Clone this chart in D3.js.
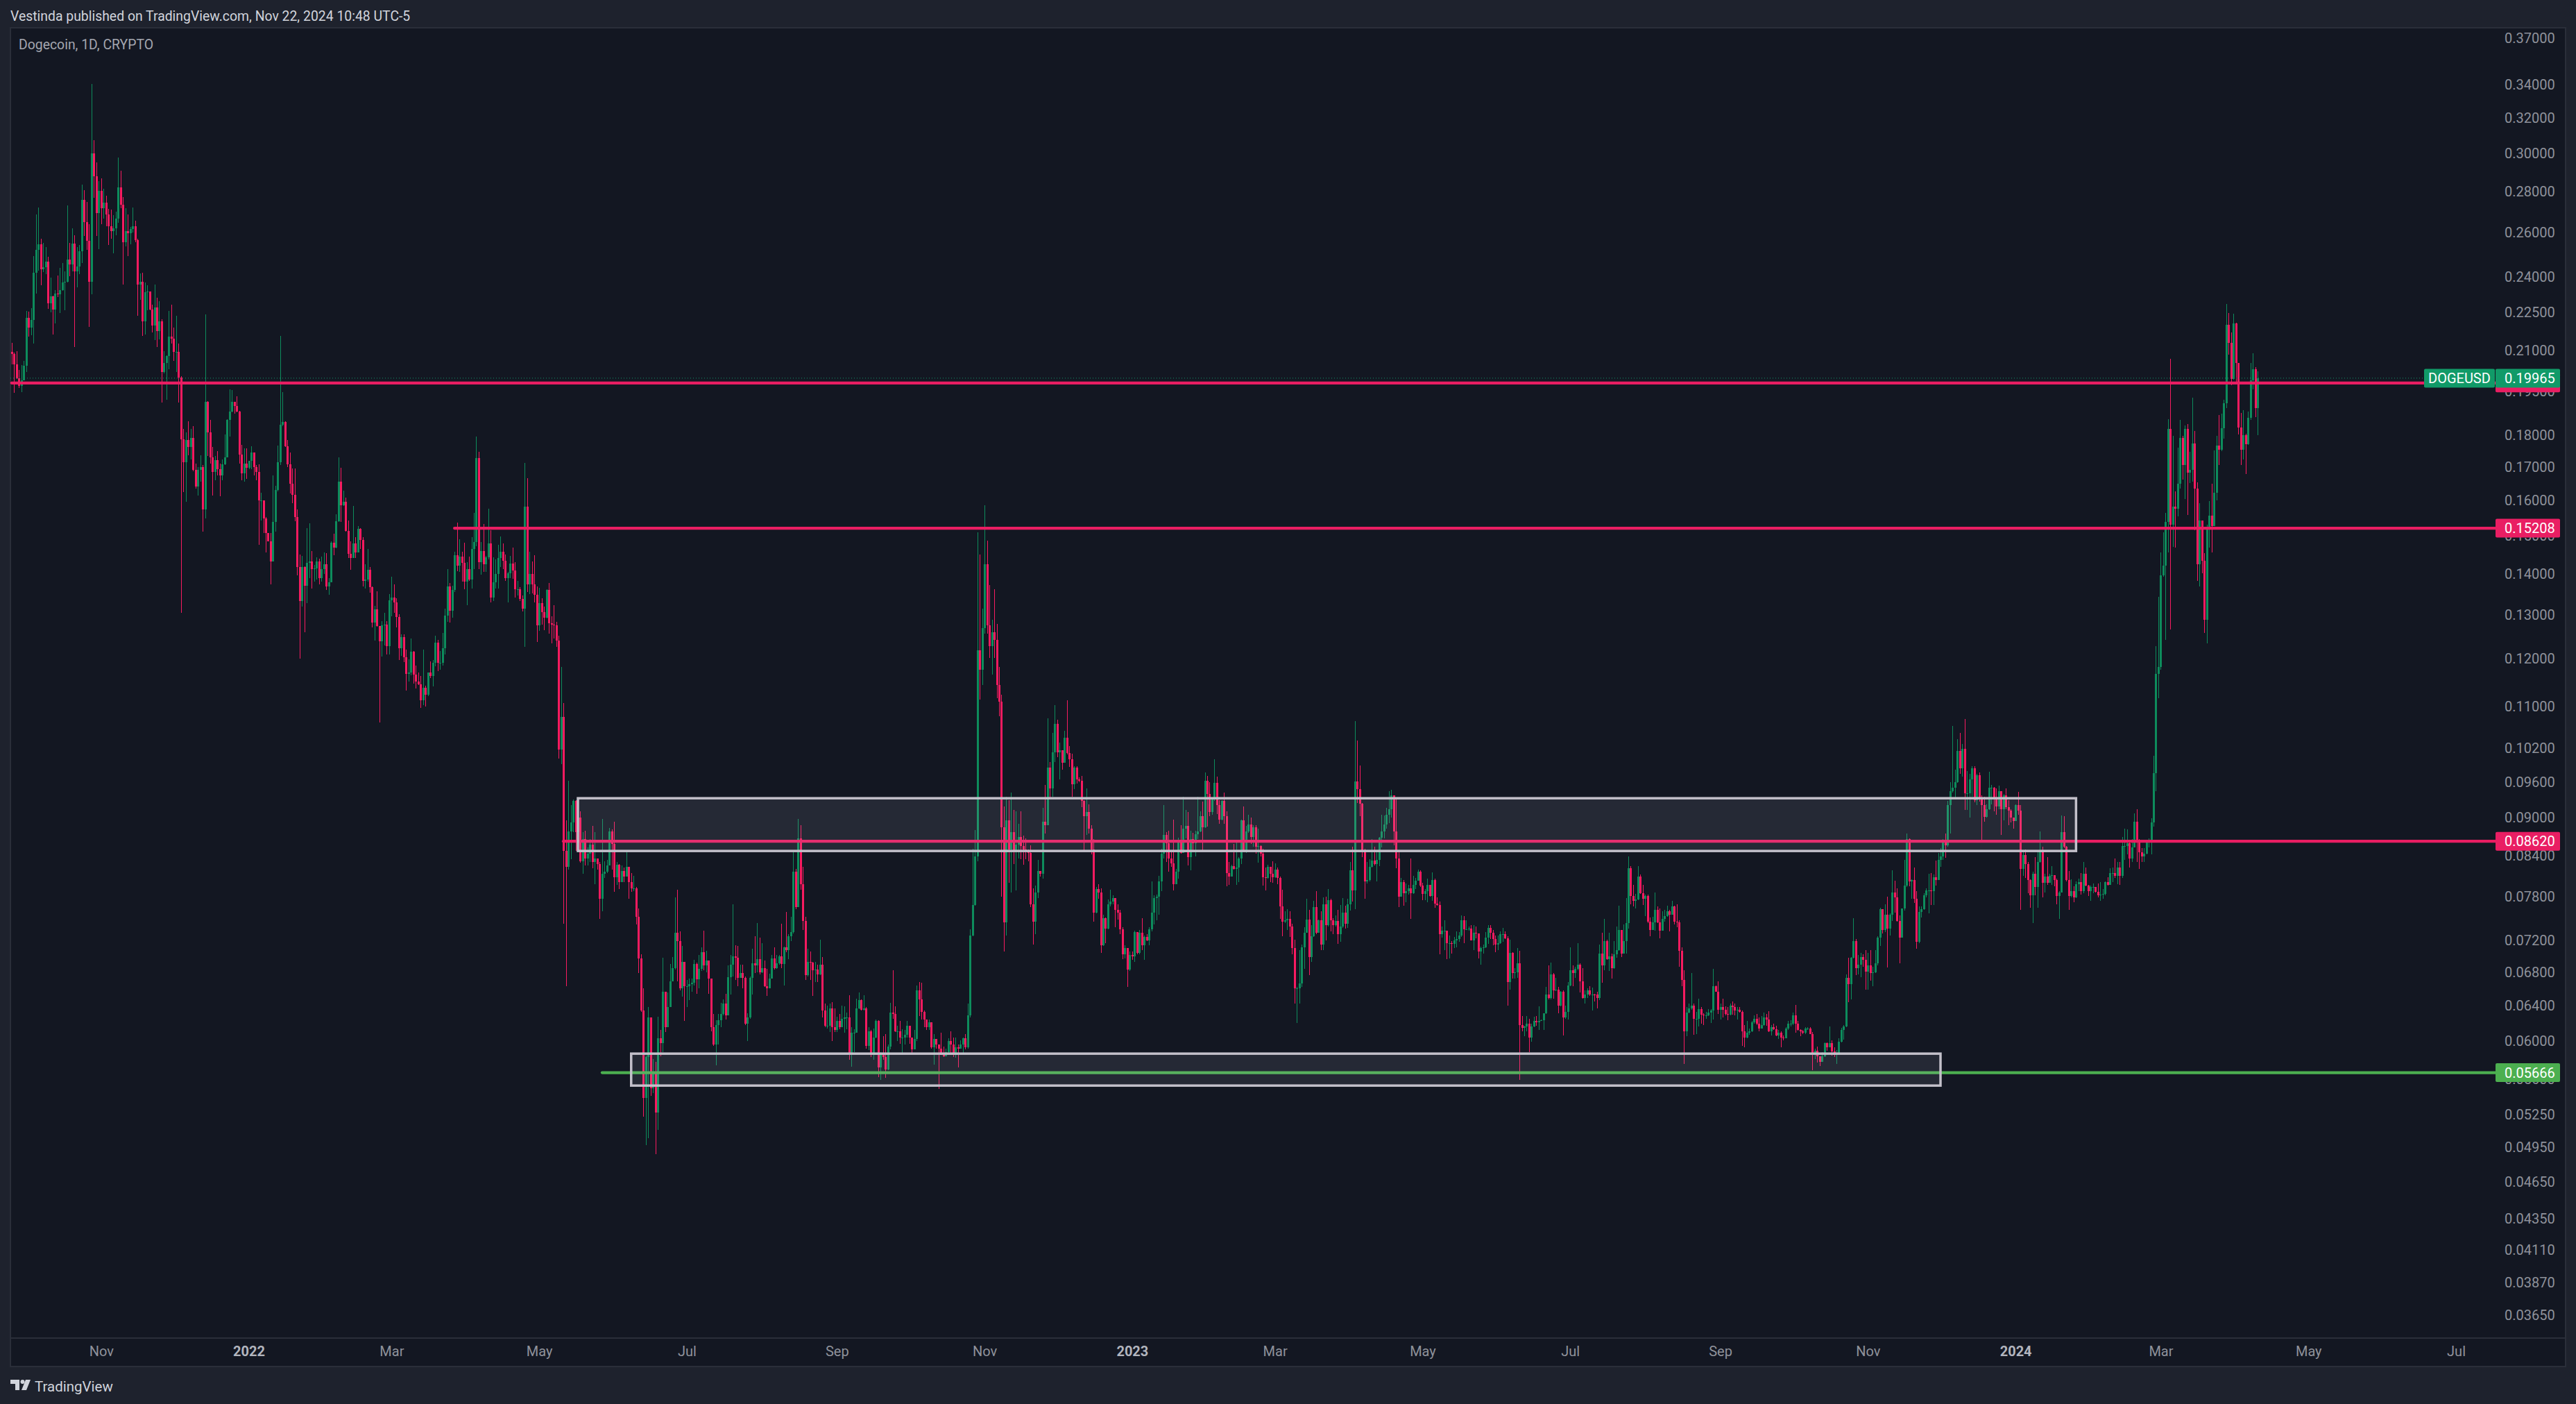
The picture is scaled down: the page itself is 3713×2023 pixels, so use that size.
<!DOCTYPE html>
<html>
<head>
<meta charset="utf-8">
<title>Dogecoin, 1D, CRYPTO</title>
<script src="https://cdn.jsdelivr.net/npm/d3@7"></script>
<style>
  html, body { margin: 0; padding: 0; background: #1e222d; }
  svg { display: block; }
  text { font-family: Roboto, "Liberation Sans", sans-serif; }
</style>
</head>
<body>
<div id="chart"></div>
<script>
// all prices below are in units of 0.00001 USD
var priceUnit = 0.00001;
var firstDay = "2021-09-25";
var lastDay = "2024-04-10";
var firstOpen = 20940;

var closePrices = [
20850,20480,19970,19680,19890,20420,22270,21870,22190,24170,
25200,25450,24310,24420,24660,22880,23150,22620,23270,23260,
23420,23750,23790,24760,24540,25480,24220,24450,25140,27580,
26500,25600,23790,30020,28800,26920,28040,27170,27450,26880,
26310,26070,26200,26670,28220,27340,25560,26070,25970,26170,
26300,25650,23670,23790,22140,23330,23350,22600,21970,22700,
21740,22120,20190,20520,20780,21530,21460,20930,20950,19990,
17880,17150,17840,17620,17910,16900,16400,16910,16990,15730,
19120,18090,17290,16840,17210,16930,16730,17070,17290,18500,
18800,19120,18980,18800,17390,16790,17100,16960,17190,17450,
17000,16840,15990,16000,15490,15070,14860,14320,15380,16300,
17150,18340,18450,17640,17080,16480,16150,15510,14180,13320,
14180,13710,14280,14310,14130,14140,14320,13900,14130,14240,
13680,13790,14820,14690,15400,16540,15850,15950,15140,14510,
14400,14790,14550,15190,14880,13830,13860,14100,13660,12810,
13120,12740,12390,12760,12770,12280,13340,13410,13290,12950,
12240,12490,12040,11680,11700,12160,11660,11520,11460,11130,
11390,11250,11700,11630,11920,12360,11910,11910,12230,12980,
13680,13090,13600,14480,14210,14450,14290,13800,14120,13860,
14640,14840,17270,14300,14590,14240,14430,14800,13410,13780,
13990,14410,14570,14330,13900,14020,14270,14080,13610,13620,
13380,13150,15815,13740,13990,13730,13480,12750,13280,13060,
12930,13590,12800,12770,12750,12410,10180,10800,8470,8230,
8780,8925,9280,8770,9000,8310,8650,8360,8430,8570,
8300,8360,8270,7770,8130,8160,8250,8780,8580,8080,
8260,8010,8170,8090,8235,8010,7915,7920,7520,6970,
6340,5410,5830,6260,5510,5670,5270,6030,5980,6560,
6150,6380,6690,6850,7300,7190,6600,6930,6630,6630,
6650,6670,6900,6710,6840,7050,6880,6940,6720,6150,
5960,6180,6230,6300,6420,6290,6740,6890,7000,6980,
6730,6790,6730,6190,6260,6730,6910,6880,6960,6800,
6850,6630,6600,6720,6970,6850,6910,7000,6900,7110,
7080,7260,7310,8160,7650,8670,7980,7460,6760,6930,
6920,6820,6830,6770,6890,6340,6170,6170,6370,6150,
6120,6220,6150,6250,6260,6260,5870,6090,6090,6370,
6460,6350,6370,5950,6110,5850,6040,6220,5720,5865,
5830,5700,5940,6320,6300,6110,6110,6040,6040,6070,
6170,6040,5910,6020,6580,6470,6330,6240,6150,6210,
5930,6020,5960,5920,5855,5840,5880,6000,5960,5850,
5935,5920,5960,6030,5930,6290,7270,7680,8390,12190,
11760,12690,14240,12750,12280,12600,12420,11450,11100,8840,
7440,8950,8490,8770,8480,8570,8690,8550,8490,8470,
8440,7690,7450,7860,8170,8130,8930,8870,9850,9490,
10130,10670,10130,10170,9940,10400,10120,10000,9560,9850,
9640,9620,9270,9020,9090,8820,8490,7570,7910,7860,
7140,7500,7360,7690,7730,7780,7610,7570,7350,7020,
7100,6830,7010,7000,7310,7040,7300,7140,7250,7200,
7350,7570,7780,7800,8020,8430,8720,8590,8360,8280,
7980,8160,8640,8440,8820,8860,8380,8650,8590,8730,
8780,9020,8840,9620,9390,9090,9320,9580,9200,8960,
9280,9020,8140,8090,8240,8200,8220,8360,8950,8480,
8780,8890,8690,8840,8540,8550,8430,8080,8070,8230,
8130,8080,8190,8070,7660,7450,7470,7490,7390,7100,
6600,6600,6660,7110,7300,7480,6990,7260,7650,7300,
7470,7150,7690,7400,7750,7470,7400,7460,7280,7390,
7570,7420,7690,8180,7890,9610,9470,9230,8480,8020,
8040,8230,8320,8270,8330,8680,8780,8890,9050,9140,
9370,8780,8350,7800,8010,7850,7880,7920,7850,7970,
8030,8160,7950,7840,7880,7960,7810,8040,7700,7680,
7280,7330,7330,7170,7170,7160,7200,7220,7270,7470,
7350,7350,7360,7200,7300,7290,7060,7100,7110,7240,
7370,7300,7220,7150,7170,7280,7280,7230,6680,7040,
6790,6800,6910,6175,6145,6165,6195,6040,6165,6220,
6205,6225,6230,6310,6530,6490,6770,6580,6590,6400,
6560,6260,6330,6640,6825,6785,6840,6895,6690,6490,
6530,6575,6525,6530,6525,6485,7036,6880,7190,6965,
7000,6845,7025,7080,7340,7036,7190,7435,8210,7810,
7740,7760,8090,7850,7770,7810,7455,7340,7445,7615,
7445,7330,7490,7530,7595,7550,7660,7455,7445,7070,
6700,6105,6315,6370,6400,6245,6250,6360,6295,6285,
6290,6320,6340,6630,6565,6350,6385,6350,6300,6295,
6400,6380,6345,6350,6330,6110,6040,6090,6110,6210,
6250,6195,6140,6180,6265,6240,6105,6150,6130,6060,
6090,6040,6030,6140,6195,6195,6290,6195,6125,6110,
6090,6135,6140,6080,5865,5895,5835,5780,5835,5975,
5930,5980,5890,5855,5865,5995,6120,6165,6725,6655,
6975,7190,6850,6895,6990,6950,6805,6880,6790,6800,
6905,7235,7625,7340,7550,7360,7550,7860,7790,7460,
7240,7630,7950,8650,8020,8040,7770,7180,7580,7620,
7820,7890,7890,7880,8080,8040,8330,8390,8620,8560,
9200,9440,9500,9600,10160,9840,10190,9400,9400,9640,
9840,9290,9720,9310,9200,9010,9140,9500,9500,9330,
9180,9440,9140,9370,9170,9110,9000,8940,9200,9110,
8200,8410,8270,8040,7820,8130,7930,8300,8470,8000,
8090,8000,8100,8110,8040,7810,7860,8770,8540,8040,
7810,7880,7790,7980,8010,7880,8130,7950,7880,7930,
7930,7870,7820,7830,7840,8010,7970,8140,8140,8100,
8220,8100,8550,8550,8590,8360,8520,8930,8610,8450,
8390,8430,8620,8620,8920,9760,11680,11820,13960,14210,
15380,18210,15310,15810,15760,16480,17920,17050,18210,16820,
16900,17740,16350,14240,15430,14330,12890,15210,15550,15270,
16210,17660,17530,18240,19070,21980,21290,19930,22040,20520,
18250,17530,18000,17710,18580,19880,20280,18920,19965
];

var highPrices = [
21280,20910,20970,20260,20450,20610,22550,22520,22670,24910,
26880,27190,25710,25520,25310,24890,23960,23190,23420,24040,
24390,24600,24240,27300,25520,26200,25880,25330,25420,28370,
28080,27470,26390,34040,30740,29520,28530,28680,28150,27800,
27130,27100,26830,27000,29790,29070,27740,27170,26880,26280,
27190,26560,25720,24150,24170,23750,23640,23360,22810,23670,
23090,22960,22220,20970,20820,22550,22810,21880,22360,21260,
20040,18210,18090,18470,18220,18310,17100,17000,17370,17060,
22400,19160,18500,17620,17340,17490,17100,17220,18020,18530,
19570,19530,19120,19320,18820,17700,17580,17580,17190,17640,
17450,17060,17070,16220,16000,15510,15070,15070,16730,16420,
17670,21560,19470,18470,17840,17450,16950,16940,15730,14500,
14460,14200,15210,15340,14590,14220,14430,14390,14450,14560,
14530,13900,14850,15060,15590,17300,16980,16280,16080,15430,
14850,15830,14970,15260,15210,14970,14240,14640,14180,13680,
13210,13570,12740,12850,13050,12850,13500,13920,13740,13390,
13010,12550,12550,12210,11990,12450,12180,11850,11710,11640,
12200,11430,11700,11950,11970,12510,12420,12170,12580,13150,
14120,13770,13700,14570,15360,14910,14570,14810,14300,14440,
14960,15640,17950,17460,14830,15330,14470,15760,15150,14430,
14380,14760,14980,14800,14500,14050,14470,14680,14300,13820,
13660,13470,17110,16650,14570,14320,14490,13680,13650,13390,
13190,13610,13770,12970,13220,12830,12520,11830,11070,8950,
9620,9200,9300,9290,9130,9100,8760,8790,8520,8660,
8860,8760,8360,8300,8980,8310,8330,8830,8810,8930,
8300,8270,8250,8220,8460,8235,8140,8100,7930,7630,
7020,6600,5846,6380,6260,5810,5780,6270,6120,6980,
6560,6550,6900,6990,7790,7900,7320,7130,6930,6700,
6720,6720,6950,6920,7010,7110,7330,7070,6940,6710,
6300,6230,6300,6430,6470,6540,6880,7010,7690,7140,
7130,6890,6890,6750,6310,6750,7090,7260,7430,7240,
7170,6940,6840,6780,7010,7110,7010,7010,7420,7120,
7580,7280,7520,8460,8200,8980,8870,8230,7520,7090,
7060,6930,6930,6890,7210,6990,6420,6400,6420,6440,
6370,6270,6300,6400,6390,6320,6520,6150,6130,6480,
6550,6470,6520,6380,6150,6120,6140,6240,6230,5880,
6050,6080,5960,6430,6820,6390,6170,6220,6130,6120,
6220,6170,6040,6120,6640,6680,6670,6340,6230,6240,
6210,6080,6020,5960,6090,5940,5920,6030,6110,6040,
6040,5960,6010,6040,6080,6420,7350,8500,8800,15100,
14500,13150,15850,14870,13720,12890,13620,12780,11820,11250,
9180,9340,9290,9420,9130,9100,8900,9100,8710,8670,
8490,8560,7920,7950,8330,8170,9160,9550,10770,9950,
10490,11030,10750,10310,10170,10530,11130,10240,10100,9880,
9880,9680,9710,9290,9490,9220,8880,8650,7930,7980,
7920,7550,7510,7760,7900,7820,7780,7690,7610,7380,
7140,7100,7060,7060,7330,7220,7340,7500,7270,7280,
7380,8020,7820,7830,8100,8500,9210,8770,8790,8470,
8960,8200,8680,8880,9350,9130,9090,8790,8750,8790,
9340,9100,9260,9770,9710,9590,9330,10000,9690,9290,
9290,9420,9100,8300,8260,8580,8640,8380,8970,9180,
8860,9040,9000,8880,8880,8820,8560,8500,8220,8260,
8210,8310,8280,8220,8090,7900,7590,7620,7590,7420,
7210,6620,7080,7150,7380,7770,7610,7400,7740,7880,
7480,7590,7790,7800,7910,7770,7500,7540,7610,7680,
7780,7670,7770,8300,8540,10720,10350,9890,9240,8500,
8300,8340,8660,8540,8460,8690,9050,9030,9160,9440,
9460,9370,9330,8450,8070,8040,7990,7970,8360,8100,
8070,8190,8180,8000,7910,8060,7970,8150,8060,7790,
7730,7390,7470,7330,7270,7190,7250,7320,7310,7540,
7530,7470,7390,7400,7400,7390,7290,7120,7150,7310,
7400,7400,7340,7270,7270,7320,7370,7320,7260,7210,
7050,6850,7100,7070,6280,6170,6280,6250,6195,6270,
6280,6390,6240,6310,6620,6880,6920,6790,6725,6620,
6570,6580,6400,6680,7115,6880,6870,7170,6910,6850,
6575,6600,6630,6610,6540,6560,7150,7300,7490,7215,
7300,7030,7195,7390,7670,7340,7410,7780,8390,8240,
7970,7840,8240,8120,7970,7830,7830,7510,7520,7860,
7660,7630,7590,7610,7670,7610,7740,7670,7685,7470,
7115,6820,6385,6425,6790,6425,6330,6480,6385,6310,
6325,6360,6355,6840,6640,6690,6420,6480,6390,6380,
6420,6450,6420,6385,6385,6345,6180,6220,6140,6220,
6285,6300,6260,6280,6315,6305,6335,6180,6190,6170,
6120,6110,6065,6155,6220,6235,6320,6410,6220,6130,
6125,6150,6155,6155,6100,5915,5940,5840,5880,5985,
5985,6160,6010,5930,5900,6030,6145,6175,6770,6975,
6990,7500,7220,7015,7040,7020,7075,7045,7075,6865,
7075,7260,7640,7610,7690,7800,7560,8180,8030,7920,
7540,7630,8330,8740,8670,8050,8220,7880,7660,7660,
7850,7920,8130,8140,8120,8320,8440,8510,8660,8740,
9270,9590,10620,9820,10370,10490,10280,10760,9790,9740,
9880,9880,9740,9770,9370,9340,9220,9780,9550,9510,
9490,9530,9440,9390,9490,9290,9140,9000,9220,9430,
9210,8460,8490,8300,8050,8160,8380,8480,8780,8540,
8130,8380,8130,8240,8110,8060,7880,9030,9020,8550,
8170,8050,7940,8020,8060,8140,8300,8220,7970,7950,
7990,7930,7990,8010,7910,8020,8080,8210,8220,8350,
8300,8300,8690,8820,8810,8600,8650,9070,9140,8660,
8510,8510,8640,8670,8990,10070,12280,13420,14560,15090,
15630,18540,20670,17990,16260,17610,18510,17990,18320,18360,
17470,19260,18130,16520,15920,15430,14530,15310,15980,16480,
17510,17990,18680,18710,19190,22850,22480,21680,22450,22070,
20520,18740,18850,18060,18800,20520,20890,20370,20210
];

var lowPrices = [
20480,19430,19930,19610,19470,19880,20180,21530,21580,21260,
23280,24270,23620,24190,24120,22650,22510,21620,22050,23120,
22460,23390,22570,23750,24030,24220,21130,23530,24120,24600,
25850,25200,21900,23250,27680,25850,25230,26390,26670,26300,
25420,25720,25050,25880,26470,27170,23650,25370,24920,25460,
26000,25560,22360,23000,21560,21620,22570,22570,21700,21380,
21130,21420,19090,20130,19200,20280,21260,20610,20180,19090,
13040,16230,15950,17370,17230,16870,16350,16140,16540,15120,
15490,17330,17100,16140,16590,16730,16110,16590,17060,17290,
17970,18760,18710,18770,17100,16590,16540,16640,16930,16930,
16730,16590,14760,15420,15070,14560,14860,13730,14320,15120,
16260,17060,18310,17620,17000,16190,15910,15400,13960,12010,
13200,12590,13270,13900,13630,13800,13850,13730,13800,14000,
13600,13480,13790,14490,14670,15380,15380,15830,15120,14410,
14100,14410,14410,14570,14640,13690,13630,13800,13530,12700,
12400,12720,10690,12050,12290,12090,12100,12970,13050,12710,
11980,12060,11930,11330,11520,11650,11470,11380,11450,10980,
11030,11010,11220,11590,11410,11840,11740,11770,11860,12100,
12840,12820,12930,13550,14070,14050,13810,13610,13220,13820,
13630,14120,14720,14130,13980,14050,14050,14370,13290,13320,
13630,13630,14180,14130,13820,13300,13900,13880,13410,13460,
13320,13080,12270,13540,13500,13510,13300,12380,12630,12770,
12640,12910,12560,12350,12450,12260,10020,9920,7420,6630,
8190,8340,8770,8470,8720,8290,8130,8250,8250,8300,
8210,7980,8190,7490,7590,8070,8140,8250,8190,7870,
7970,7910,8010,8010,8090,7770,7870,7880,7410,6790,
6330,5230,4970,5030,5430,5460,4890,5110,5840,5880,
6100,6150,6380,6690,6830,6690,6580,6500,6220,6380,
6460,6560,6640,6540,6600,6810,6820,6800,6540,6110,
5950,5740,5960,6150,6290,6240,6290,6530,6750,6700,
6630,6730,6600,6180,6000,6250,6530,6790,6800,6770,
6790,6620,6510,6600,6720,6830,6840,6890,6850,6640,
7050,6960,7190,7290,7620,7650,7900,7340,6700,6750,
6700,6510,6680,6680,6760,6260,6150,6140,6100,6000,
6100,6100,6130,6170,6090,6130,5800,5725,5880,6090,
6360,6340,6340,5920,5900,5830,5800,6030,5620,5590,
5800,5610,5690,5910,6250,6100,6000,5970,5850,5960,
6040,5970,5870,5920,6000,6280,6240,6150,6120,6120,
5920,5750,5920,5500,5850,5830,5850,5860,5850,5830,
5820,5720,5920,5860,5910,5920,6260,7260,7670,8310,
11150,11440,12560,12560,12020,11660,12020,11180,10820,7800,
7060,7270,8000,7860,8270,7890,8350,8340,8260,8340,
8310,7650,7150,7280,7780,8090,8060,8740,8870,9320,
9340,9950,10040,9650,9820,9940,10090,9870,9340,9480,
9570,9600,9170,8480,8720,8740,8420,7450,7560,7770,
7040,7130,7170,7350,7660,7690,7380,7480,7280,6960,
6970,6620,6810,6950,6930,7020,7020,7080,6950,7190,
7140,7320,7410,7470,7550,7880,8350,8300,8160,8230,
7890,7990,8060,8430,8440,8670,8250,8180,8470,8390,
8650,8760,8470,8830,8850,9020,9040,9270,9060,8900,
8950,8900,7940,7970,8090,8190,7970,8010,8270,8470,
8440,8750,8580,8540,8430,8290,8390,7950,7890,8060,
8010,8000,8070,7980,7490,7260,7430,7340,7250,7020,
6420,6200,6420,6620,6840,7300,6760,6930,7250,7280,
7300,7080,7080,7200,7390,7320,7280,7390,7160,7180,
7370,7360,7370,7600,7730,7620,9240,9020,8380,7770,
7990,8020,8220,8250,8020,8240,8530,8670,8820,8910,
9000,8560,8210,7650,7800,7670,7720,7830,7490,7840,
7910,8030,7930,7750,7750,7720,7800,7740,7640,7670,
7020,7240,7080,6960,6970,7030,7100,7110,7180,7250,
7170,7340,7330,7200,7080,7230,6970,6890,7030,7100,
7160,7220,7140,7050,7080,7160,7180,7220,6400,6590,
6720,6720,6725,5590,6110,6050,6110,5880,5990,6150,
6170,6120,6220,6120,6300,6470,6470,6480,6570,6310,
6390,6060,6250,6240,6630,6625,6725,6825,6550,6480,
6420,6490,6515,6340,6450,6370,6460,6670,6820,6950,
6810,6720,6840,6980,7070,6990,7040,7036,7360,7690,
7660,7630,7750,7840,7680,7530,7430,7260,7340,7330,
7435,7230,7330,7450,7520,7320,7550,7410,7380,6865,
6625,5755,6055,6310,6350,6070,6075,6165,6190,6175,
6245,6280,6200,6240,6560,6300,6240,6260,6290,6230,
6290,6295,6285,6240,6315,5945,5930,6030,6070,6100,
6195,6180,6105,6135,6170,6170,6100,6065,6120,6050,
6020,5935,6005,6030,6120,6165,6180,6090,6115,6050,
6075,6075,6125,6075,5690,5810,5770,5735,5780,5830,
5895,5930,5845,5830,5755,5860,5985,6015,6155,6440,
6475,6970,6760,6775,6740,6865,6585,6590,6695,6625,
6790,6880,7130,7290,7310,6860,7270,7460,7570,7450,
6910,7240,7600,7930,7940,7770,7710,7090,7170,7510,
7610,7790,7560,7680,7680,7950,8040,8230,8330,8370,
8540,8740,9420,9300,9580,9740,9690,9120,9120,9000,
9350,9250,9200,9260,8640,8930,9000,9120,9220,9100,
9050,9140,8720,8950,9140,8870,8920,8820,8950,9050,
7610,8100,8070,7850,7640,7430,7820,7640,8290,7790,
7860,7960,8000,7970,7940,7690,7490,7860,8510,8020,
7610,7790,7720,7780,7880,7830,7850,7940,7810,7740,
7850,7860,7790,7740,7770,7820,7950,7970,8010,8070,
7980,7970,8070,8330,8420,8220,8300,8520,8300,8200,
8300,8300,8420,8520,8420,8850,9440,11170,11770,13930,
12420,14560,12650,14700,14680,15530,16350,16610,16030,15580,
16500,16550,15150,13820,13690,14020,12580,12340,14680,14560,
15270,16000,17050,17480,17890,18920,20830,19700,19900,19810,
18030,17050,17220,16770,17700,18500,19570,18610,18000
];

var priceTicks = [0.37,0.34,0.32,0.30,0.28,0.26,0.24,0.225,0.21,0.195,0.18,0.17,0.16,0.15,0.14,0.13,0.12,0.11,0.102,0.096,0.09,0.084,0.078,0.072,0.068,0.064,0.06,0.056,0.0525,0.0495,0.0465,0.0435,0.0411,0.0387,0.0365];

var monthDates = ["2021-11-01","2022-01-01","2022-03-01","2022-05-01","2022-07-01","2022-09-01","2022-11-01","2023-01-01","2023-03-01","2023-05-01","2023-07-01","2023-09-01","2023-11-01","2024-01-01","2024-03-01","2024-05-01","2024-07-01"];
var monthLabels = ["Nov","2022","Mar","May","Jul","Sep","Nov","2023","Mar","May","Jul","Sep","Nov","2024","Mar","May","Jul"];

// drawn levels: price, first day of the line
var levelPrices = [0.19790, 0.15208, 0.08620, 0.05666];
var levelStarts = ["2021-09-25", "2022-03-27", "2022-05-11", "2022-05-27"];
var levelNames = ["0.19790", "0.15208", "0.08620", "0.05666"];

// the two boxes: top price, bottom price, start, end
var zoneTops = [0.0932, 0.05865];
var zoneBottoms = [0.0847, 0.05535];
var zoneStarts = ["2022-05-17", "2022-06-08"];
var zoneEnds = ["2024-01-26", "2023-12-01"];

var lastPrice = 0.19965;

var width = 3713, height = 2023;
var paneLeft = 15, paneTop = 40, paneRight = 3698, axisTop = 1928, paneBottom = 1969;
var labelLeft = 3597, labelRight = 3690;

var upColor = "#0d8c5c", downColor = "#f81b60";
var lineRed = "#e91e63", lineGreen = "#4caf50";

var parseDay = d3.utcParse("%Y-%m-%d");

var x = d3.scaleUtc()
    .domain([parseDay(firstDay), parseDay(lastDay)])
    .range([16.7, 3254]);
var y = d3.scaleLog()
    .domain([0.37, 0.0365])
    .range([54.7, 1895]);

var candles = closePrices.map(function(c, i) {
    var open = i == 0 ? firstOpen : closePrices[i - 1];
    return {
        day: d3.utcDay.offset(parseDay(firstDay), i),
        open: open * priceUnit,
        close: c * priceUnit,
        high: Math.max(highPrices[i], c, open) * priceUnit,
        low: Math.min(lowPrices[i], c, open) * priceUnit
    };
});

var svg = d3.select("#chart").append("svg")
    .attr("width", width)
    .attr("height", height);

svg.append("rect").attr("width", width).attr("height", height).attr("fill", "#1e222d");
svg.append("rect")
    .attr("x", paneLeft).attr("y", paneTop)
    .attr("width", paneRight - paneLeft).attr("height", paneBottom - paneTop)
    .attr("fill", "#131722")
    .attr("stroke", "#2a2e39").attr("stroke-width", 2);
svg.append("line")
    .attr("x1", paneLeft).attr("x2", paneRight)
    .attr("y1", axisTop).attr("y2", axisTop)
    .attr("stroke", "#2a2e39").attr("stroke-width", 2);

// header and footer
svg.append("text").attr("x", 15).attr("y", 30)
    .attr("font-size", 19.4).attr("fill", "#d1d4dc")
    .text("Vestinda published on TradingView.com, Nov 22, 2024 10:48 UTC-5");
svg.append("text").attr("x", 27).attr("y", 71)
    .attr("font-size", 19.4).attr("fill", "#a3a6af")
    .text("Dogecoin, 1D, CRYPTO");
svg.append("path")
    .attr("d", "M15 1988h13v15h-6v-9h-7z M37 1988h7l-6 15h-7z")
    .attr("fill", "#d1d4dc");
svg.append("circle").attr("cx", 32.5).attr("cy", 1991).attr("r", 3).attr("fill", "#d1d4dc");
svg.append("text").attr("x", 50).attr("y", 2005)
    .attr("font-size", 20.5).attr("fill", "#d1d4dc")
    .text("TradingView");

// candles
var candleGroup = svg.append("g").attr("shape-rendering", "crispEdges");
candleGroup.selectAll(".wick")
    .data(candles)
    .enter().append("rect")
    .attr("class", "wick")
    .attr("x", function(d) { return Math.round(x(d.day)) - 0.5; })
    .attr("width", 1)
    .attr("y", function(d) { return y(d.high); })
    .attr("height", function(d) { return Math.max(1, y(d.low) - y(d.high)); })
    .attr("fill", function(d) { return d.close >= d.open ? upColor : downColor; });
candleGroup.selectAll(".body")
    .data(candles)
    .enter().append("rect")
    .attr("class", "body")
    .attr("x", function(d) { return Math.round(x(d.day)) - 1.5; })
    .attr("width", 3)
    .attr("y", function(d) { return y(Math.max(d.open, d.close)); })
    .attr("height", function(d) { return Math.max(1, Math.abs(y(d.open) - y(d.close))); })
    .attr("fill", function(d) { return d.close >= d.open ? upColor : downColor; });

// last price dotted line
svg.append("line")
    .attr("x1", paneLeft).attr("x2", 3494)
    .attr("y1", y(lastPrice)).attr("y2", y(lastPrice))
    .attr("stroke", "#12966a").attr("stroke-width", 1).attr("stroke-dasharray", "1 3");

// horizontal levels
svg.selectAll(".level")
    .data(levelPrices)
    .enter().append("line")
    .attr("class", "level")
    .attr("x1", function(d, i) { return x(parseDay(levelStarts[i])); })
    .attr("x2", labelLeft)
    .attr("y1", function(d) { return y(d); })
    .attr("y2", function(d) { return y(d); })
    .attr("stroke", function(d, i) { return i == 3 ? lineGreen : lineRed; })
    .attr("stroke-width", 4.2)
    .attr("stroke-linecap", "round");

// boxes go over the levels, the lines show paler inside them
svg.selectAll(".zone")
    .data(zoneTops)
    .enter().append("rect")
    .attr("class", "zone")
    .attr("x", function(d, i) { return x(parseDay(zoneStarts[i])); })
    .attr("y", function(d) { return y(d); })
    .attr("width", function(d, i) { return x(parseDay(zoneEnds[i])) - x(parseDay(zoneStarts[i])); })
    .attr("height", function(d, i) { return y(zoneBottoms[i]) - y(d); })
    .attr("fill", "#c8c8dc").attr("fill-opacity", 0.105)
    .attr("stroke", "#c3c0ca").attr("stroke-width", 3.5);

// price axis
var yAxis = d3.axisRight(y)
    .tickValues(priceTicks)
    .tickFormat(d3.format(".5f"))
    .tickSize(0);
var yAxisG = svg.append("g")
    .attr("transform", "translate(3610,0)")
    .call(yAxis);
yAxisG.select(".domain").remove();
yAxisG.selectAll("text")
    .attr("x", 0)
    .attr("font-size", 20)
    .attr("fill", "#8f929b");

// time axis
var xAxis = d3.axisBottom(x)
    .tickValues(monthDates.map(parseDay))
    .tickFormat(function(d, i) { return monthLabels[i]; })
    .tickSize(0);
var xAxisG = svg.append("g")
    .attr("transform", "translate(0,1940)")
    .call(xAxis);
xAxisG.select(".domain").remove();
xAxisG.selectAll("text")
    .attr("y", 0)
    .attr("dy", "0.71em")
    .attr("font-size", 20)
    .attr("font-weight", function(d, i) { return monthLabels[i].length == 4 ? 700 : 400; })
    .attr("fill", function(d, i) { return monthLabels[i].length == 4 ? "#b2b5be" : "#8f929b"; });

// price labels on the axis
function priceLabel(price, text, color, left) {
    var cy = y(price);
    svg.append("rect")
        .attr("x", left).attr("y", cy - 13.5)
        .attr("width", labelRight - left).attr("height", 27)
        .attr("rx", 2)
        .attr("fill", color);
    svg.append("text")
        .attr("x", 3610).attr("y", cy)
        .attr("dy", "0.36em")
        .attr("font-size", 20)
        .attr("fill", "#ffffff")
        .text(text);
}

levelPrices.forEach(function(p, i) {
    if (i > 0) priceLabel(p, levelNames[i], i == 3 ? lineGreen : lineRed, labelLeft);
    else svg.append("rect")
        .attr("x", labelLeft).attr("y", y(p) - 13.5)
        .attr("width", labelRight - labelLeft).attr("height", 27)
        .attr("rx", 2).attr("fill", lineRed);
});

// last price sits on top of the hidden level label
svg.append("rect")
    .attr("x", 3494).attr("y", y(lastPrice) - 13.5)
    .attr("width", 102).attr("height", 27)
    .attr("rx", 2).attr("fill", "#119a68");
svg.append("text")
    .attr("x", 3500).attr("y", y(lastPrice))
    .attr("dy", "0.36em")
    .attr("font-size", 20).attr("fill", "#ffffff")
    .text("DOGEUSD");
priceLabel(lastPrice, "0.19965", "#119a68", labelLeft);
</script>
</body>
</html>
